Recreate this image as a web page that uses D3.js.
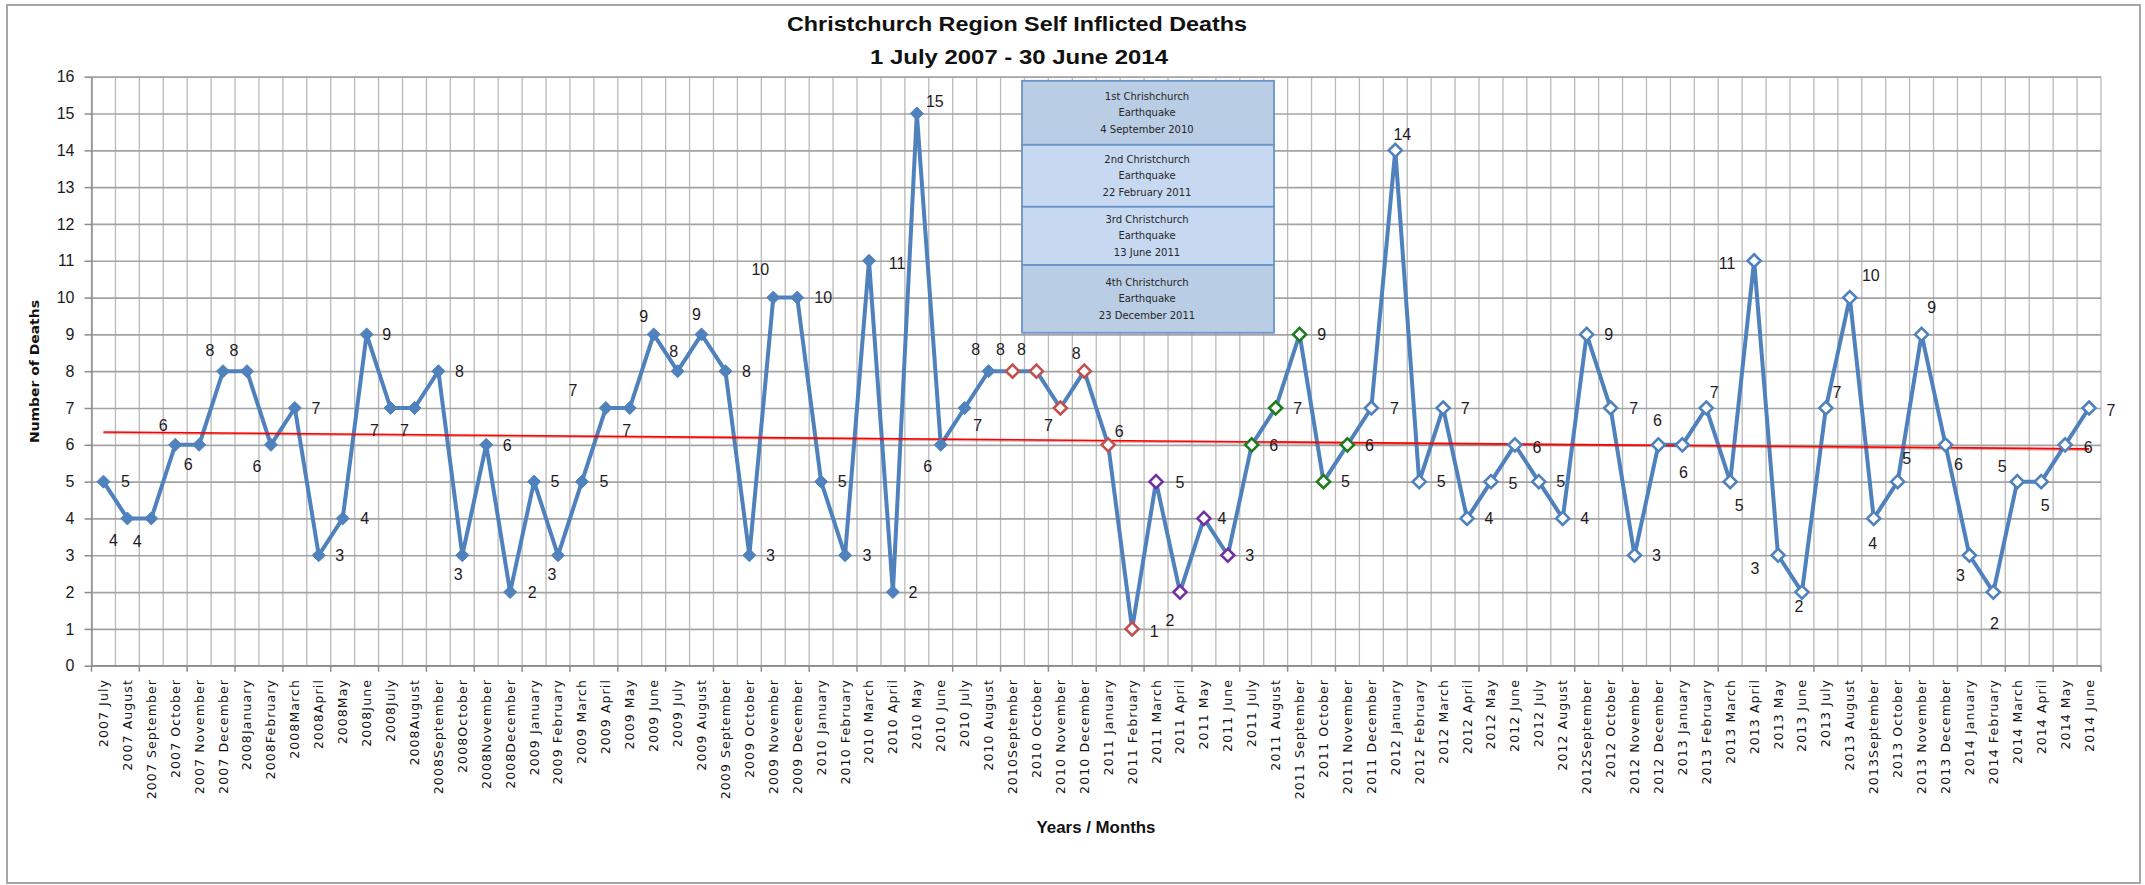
<!DOCTYPE html>
<html><head><meta charset="utf-8">
<script src="https://cdn.jsdelivr.net/npm/d3@7"></script>
<style>html,body{margin:0;padding:0;background:#fff;overflow:hidden}svg{display:block}</style>
</head><body>
<svg id="chart" width="2145" height="885"></svg>
<script>
// ---------------- DATA ----------------
const categories = [
 "2007 July","2007 August","2007 September","2007 October","2007 November","2007 December",
 "2008January","2008February","2008March","2008April","2008May","2008June","2008July","2008August","2008September","2008October","2008November","2008December",
 "2009 January","2009 February","2009 March","2009 April","2009 May","2009 June","2009 July","2009 August","2009 September","2009 October","2009 November","2009 December",
 "2010 January","2010 February","2010 March","2010 April","2010 May","2010 June","2010 July","2010 August","2010September","2010 October","2010 November","2010 December",
 "2011 January","2011 February","2011 March","2011 April","2011 May","2011 June","2011 July","2011 August","2011 September","2011 October","2011 November","2011 December",
 "2012 January","2012 February","2012 March","2012 April","2012 May","2012 June","2012 July","2012 August","2012September","2012 October","2012 November","2012 December",
 "2013 January","2013 February","2013 March","2013 April","2013 May","2013 June","2013 July","2013 August","2013September","2013 October","2013 November","2013 December",
 "2014 January","2014 February","2014 March","2014 April","2014 May","2014 June"
];
const deaths = [
 5,4,4,6,6,8,
 8,6,7,3,4,9,7,7,8,3,6,2,
 5,3,5,7,7,9,8,9,8,3,10,10,
 5,3,11,2,15,6,7,8,8,8,7,8,
 6,1,5,2,4,3,6,7,9,5,6,7,
 14,5,7,4,5,6,5,4,9,7,3,6,
 6,7,5,11,3,2,7,10,4,5,9,6,
 3,2,5,5,6,7
];
const yTickValues = [0,1,2,3,4,5,6,7,8,9,10,11,12,13,14,15,16];
// marker periods: first month of each period
const periodStarts = ["2007 July","2010September","2011 March","2011 July","2011 December"];
const periodNames = ["before","after1st","after2nd","after3rd","after4th"];
const quakeNotes = [
 ["1st Chrishchurch","Earthquake","4 September 2010"],
 ["2nd Christchurch","Earthquake","22 February 2011"],
 ["3rd Christchurch","Earthquake","13 June 2011"],
 ["4th Christchurch","Earthquake","23 December 2011"]
];
const titleLines = ["Christchurch Region Self Inflicted Deaths","1 July 2007 - 30 June 2014"];
const xTitle = "Years / Months";
const yTitle = "Number of Deaths";

// ---------------- LAYOUT / STYLE ----------------
const plot = {left:91.5, right:2101, top:76.7, bottom:665.7};
const periodStyle = {
  before:  {fill:"#4f81bd", stroke:"#4f81bd"},
  after1st:{fill:"#ffffff", stroke:"#c0504d"},
  after2nd:{fill:"#ffffff", stroke:"#7030a0"},
  after3rd:{fill:"#ffffff", stroke:"#1f7a1f"},
  after4th:{fill:"#ffffff", stroke:"#4f81bd"}
};
// manual data-label nudges [dx, dy] (px, label centre relative to point)
const labelNudge = [
 [22,0],[-14,22],[-14,23],[-12,-20],[-11,19],[-13,-21],[-13,-21],[-14,21],[21,0],[21,0],
 [22,0],[20,0],[-16,22],[-10,22],[21,0],[-4,19],[21,0],[22,0],[21,0],[-6,19],
 [22,0],[-33,-18],[-3,22],[-10,-18],[-4,-20],[-5,-20],[21,0],[21,0],[-13,-28],[26,0],
 [21,0],[22,0],[28,2],[20,0],[18,-12],[-13,21],[13,17],[-13,-22],[-12,-22],[-15,-22],
 [-12,17],[-8,-18],[11,-14],[22,2],[24,1],[-10,28],[18,0],[22,0],[22,0],[22,0],
 [22,0],[22,0],[22,0],[23,0],[7,-16],[22,0],[22,0],[22,0],[22,2],[22,2],
 [22,0],[22,0],[22,0],[23,0],[22,0],[-1,-25],[1,27],[8,-16],[9,24],[-27,2],
 [-23,13],[-3,14],[11,-16],[21,-22],[-1,25],[9,-23],[10,-27],[13,19],[-9,20],[1,31],
 [-15,-15],[4,24],[23,2],[22,2]
];

const svg = d3.select("#chart");
svg.append("rect").attr("width",2145).attr("height",885).attr("fill","#ffffff");
svg.append("rect").attr("x",7).attr("y",5).attr("width",2133).attr("height",878)
  .attr("fill","none").attr("stroke","#a6a6a6").attr("stroke-width",2);

const x = d3.scaleBand().domain(categories).range([plot.left, plot.right]).padding(0);
const y = d3.scaleLinear().domain([0,16]).range([plot.bottom, plot.top]);
const cx = c => x(c) + x.bandwidth()/2;

// vertical gridlines at every category boundary
const bounds = categories.map(c => x(c)).concat([plot.right]);
svg.append("g").selectAll("line").data(bounds).join("line")
  .attr("x1",d=>d).attr("x2",d=>d).attr("y1",plot.top).attr("y2",plot.bottom)
  .attr("stroke","#b9b9b9").attr("stroke-width",1.3);

// horizontal gridlines
svg.append("g").attr("transform",`translate(${plot.left},0)`)
  .call(d3.axisLeft(y).tickValues(yTickValues).tickSize(-(plot.right-plot.left)).tickFormat(""))
  .call(g=>g.select(".domain").remove())
  .call(g=>g.selectAll("line").attr("stroke","#a3a3a3").attr("stroke-width",1.7));

// y axis
svg.append("g").attr("transform",`translate(${plot.left},0)`)
  .call(d3.axisLeft(y).tickValues(yTickValues).tickSize(7).tickPadding(10).tickSizeOuter(0))
  .call(g=>g.select(".domain").attr("stroke","#8c8c8c").attr("stroke-width",1.5))
  .call(g=>g.selectAll(".tick line").attr("stroke","#8c8c8c").attr("stroke-width",1.5))
  .call(g=>g.selectAll(".tick text").attr("font-family","'Liberation Sans Narrow','Liberation Sans',Arial,sans-serif")
     .attr("font-size",16).attr("fill","#1a1a1a"));

// x axis line + ticks every second boundary
const xa = svg.append("g");
xa.append("line").attr("x1",plot.left).attr("x2",plot.right).attr("y1",plot.bottom).attr("y2",plot.bottom)
  .attr("stroke","#8c8c8c").attr("stroke-width",1.5);
xa.selectAll("line.tk").data(bounds.filter((d,i)=>i%2===0)).join("line").attr("class","tk")
  .attr("x1",d=>d).attr("x2",d=>d).attr("y1",plot.bottom).attr("y2",plot.bottom+6)
  .attr("stroke","#8c8c8c").attr("stroke-width",1.5);
xa.selectAll("text").data(categories).join("text")
  .attr("transform",d=>`translate(${cx(d)},679) rotate(-90)`)
  .attr("text-anchor","end").attr("dy","0.36em")
  .attr("font-family","'DejaVu Sans',Verdana,sans-serif").attr("font-size",12.5)
  .attr("letter-spacing","1.1px").attr("fill","#111").text(d=>d);

// annotation box
const box = {x:1022, w:252, edges:[80.8,144.8,206.8,265,332.8]};
const boxFill = ["#b9cde5","#c6d9f1","#c6d9f1","#b9cde5"];
const bg = svg.append("g");
quakeNotes.forEach((lines,k)=>{
  const y0 = box.edges[k], y1 = box.edges[k+1];
  bg.append("rect").attr("x",box.x).attr("y",y0).attr("width",box.w).attr("height",y1-y0)
    .attr("fill",boxFill[k]).attr("stroke","#6a93c9").attr("stroke-width",1.8);
  const mid = (y0+y1)/2;
  lines.forEach((t,j)=>{
    bg.append("text").attr("x",box.x+box.w/2-1).attr("y",mid+(j-1)*16.5).attr("dy","0.35em")
      .attr("text-anchor","middle").attr("font-family","'DejaVu Sans',Verdana,sans-serif")
      .attr("font-size",10).attr("fill","#262626").text(t);
  });
});

// series line
const line = d3.line().x((d,i)=>cx(categories[i])).y(d=>y(d));
svg.append("path").datum(deaths).attr("d",line).attr("fill","none")
  .attr("stroke","#4f81bd").attr("stroke-width",4).attr("stroke-linejoin","round");

// linear trendline (least squares)
const n = deaths.length;
const mi = d3.mean(d3.range(n)), mv = d3.mean(deaths);
const slope = d3.sum(deaths,(v,i)=>(i-mi)*(v-mv)) / d3.sum(d3.range(n),i=>(i-mi)*(i-mi));
const icpt = mv - slope*mi;
svg.append("line").attr("x1",cx(categories[0])).attr("x2",cx(categories[n-1]))
  .attr("y1",y(icpt)+1).attr("y2",y(icpt+slope*(n-1))+1)
  .attr("stroke","#8b1a1a").attr("stroke-opacity",0.35).attr("stroke-width",2);
svg.append("line").attr("x1",cx(categories[0])).attr("x2",cx(categories[n-1]))
  .attr("y1",y(icpt)).attr("y2",y(icpt+slope*(n-1)))
  .attr("stroke","#ff0000").attr("stroke-width",1.6);

// markers
const startIdx = periodStarts.map(s=>categories.indexOf(s));
const periodOf = i => periodNames[d3.bisectRight(startIdx,i)-1];
const h = 6.5;
const diamond = `M0,${-h}L${h},0L0,${h}L${-h},0Z`;
svg.append("g").selectAll("path").data(deaths).join("path")
  .attr("d",diamond)
  .attr("transform",(d,i)=>`translate(${cx(categories[i])},${y(d)})`)
  .attr("fill",(d,i)=>periodStyle[periodOf(i)].fill)
  .attr("stroke",(d,i)=>periodStyle[periodOf(i)].stroke)
  .attr("stroke-width",(d,i)=>periodOf(i)==="before"?1:2.6);

// data labels
svg.append("g").selectAll("text").data(deaths).join("text")
  .attr("x",(d,i)=>cx(categories[i])+labelNudge[i][0])
  .attr("y",(d,i)=>y(d)+labelNudge[i][1])
  .attr("dy","0.36em").attr("text-anchor","middle")
  .attr("font-family","'Liberation Sans Narrow','Liberation Sans',Arial,sans-serif")
  .attr("font-size",16).attr("fill","#1f1a24").text(d=>d);

// titles
const tf = "'Liberation Sans Narrow','Liberation Sans',Arial,sans-serif";
svg.append("text").attr("x",1017).attr("y",31).attr("text-anchor","middle")
  .attr("font-family",tf).attr("font-weight","bold").attr("font-size",21).attr("fill","#111")
  .attr("textLength",460).attr("lengthAdjust","spacingAndGlyphs").text(titleLines[0]);
svg.append("text").attr("x",1019).attr("y",64).attr("text-anchor","middle")
  .attr("font-family",tf).attr("font-weight","bold").attr("font-size",21).attr("fill","#111")
  .attr("textLength",298).attr("lengthAdjust","spacingAndGlyphs").text(titleLines[1]);
svg.append("text").attr("x",1096).attr("y",833).attr("text-anchor","middle")
  .attr("font-family",tf).attr("font-weight","bold").attr("font-size",17).attr("fill","#111")
  .attr("textLength",119).attr("lengthAdjust","spacingAndGlyphs").text(xTitle);
svg.append("text").attr("transform","translate(35,371.5) rotate(-90)").attr("text-anchor","middle")
  .attr("dy","0.35em").attr("font-family","'DejaVu Sans',Verdana,sans-serif").attr("font-weight","bold")
  .attr("font-size",12).attr("fill","#111")
  .attr("textLength",143).attr("lengthAdjust","spacingAndGlyphs").text(yTitle);
</script>
</body></html>
